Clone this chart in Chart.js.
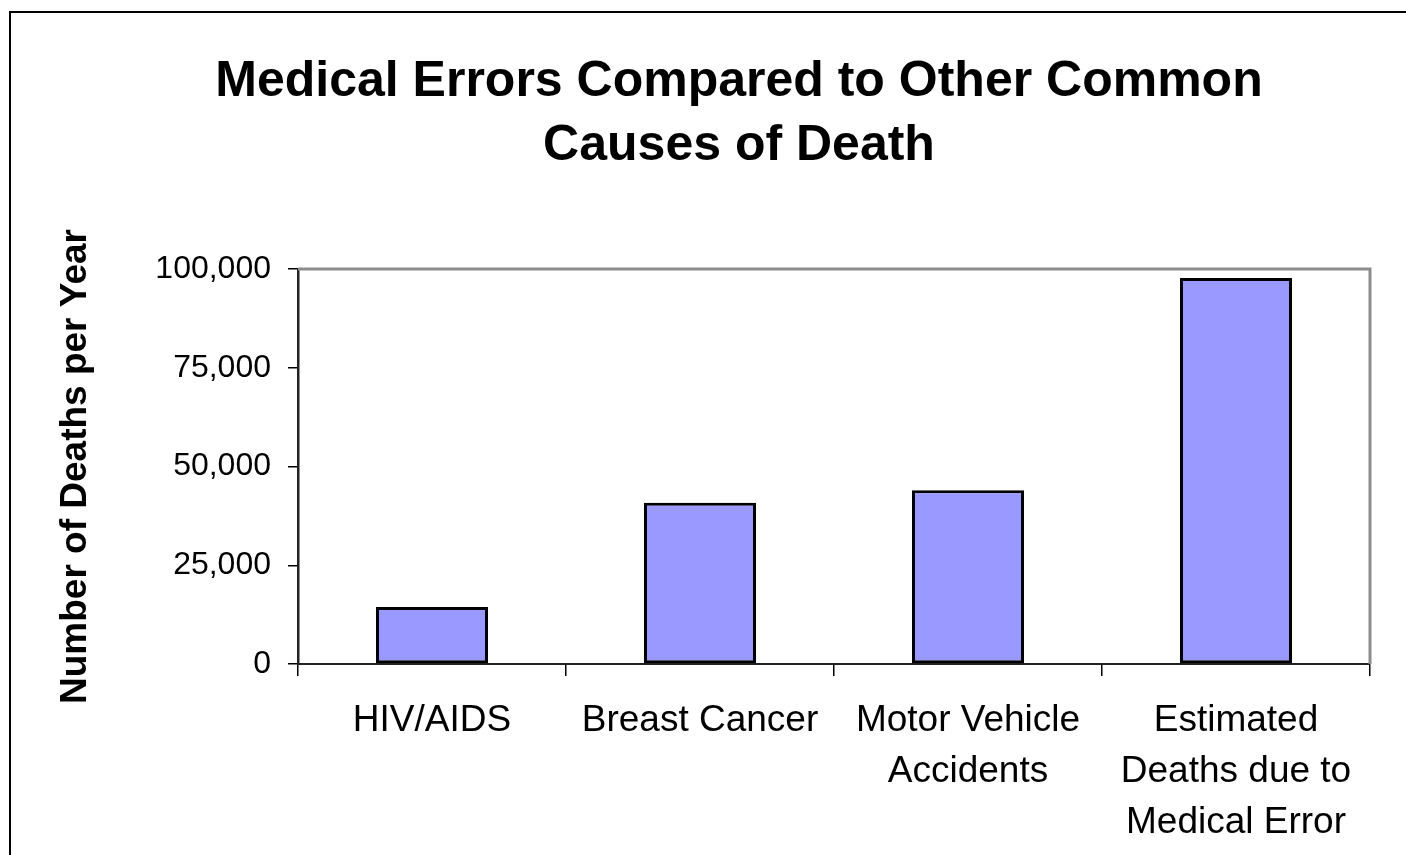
<!DOCTYPE html>
<html>
<head>
<meta charset="utf-8">
<script src="https://cdn.jsdelivr.net/npm/chart.js@4"></script>
<style>
	body { margin: 0; background: #fff; }
	canvas { display: block; }
</style>
</head>
<body>
<canvas id="chartMedicalErrors" width="1406" height="855"></canvas>
<script>
const CATEGORIES = [
	'HIV/AIDS',
	'Breast Cancer',
	['Motor Vehicle', 'Accidents'],
	['Estimated', 'Deaths due to', 'Medical Error'],
];
const DEATHS_PER_YEAR = [14400, 40800, 44000, 97700];
const Y_TICKS = [0, 25000, 50000, 75000, 100000];

const FONT_FAMILY = "'Liberation Sans', Arial, sans-serif";

// white page + frame line that runs off the right and bottom edge
const pageFramePlugin = {
	id: 'pageFrame',
	afterLayout(chart) {
		// the title is centred on the whole (cropped) frame, not on the canvas
		const title = chart.titleBlock;
		if (title) {
			title.left = 108;
			title.right = 1370;
			title.width = title.right - title.left;
		}
	},
	beforeDraw(chart) {
		const ctx = chart.ctx;
		ctx.save();
		ctx.fillStyle = '#fff';
		ctx.fillRect(0, 0, chart.width, chart.height);
		ctx.strokeStyle = '#000';
		ctx.lineWidth = 2;
		ctx.beginPath();
		ctx.moveTo(10, chart.height + 5);
		ctx.lineTo(10, 12);
		ctx.lineTo(chart.width + 5, 12);
		ctx.stroke();
		ctx.restore();
	},
	beforeDatasetsDraw(chart) {
		const { ctx, chartArea } = chart;
		ctx.save();
		ctx.strokeStyle = '#8c8c8c';
		ctx.lineWidth = 3;
		ctx.beginPath();
		ctx.moveTo(chartArea.left, chartArea.top);
		ctx.lineTo(chartArea.right, chartArea.top);
		ctx.lineTo(chartArea.right, chartArea.bottom);
		ctx.stroke();
		ctx.restore();
	},
};

const ctx = document.querySelector('#chartMedicalErrors').getContext('2d');

new Chart(ctx, {
	type: 'bar',
	data: {
		labels: CATEGORIES,
		datasets: [
			{
				label: 'Deaths per Year',
				data: DEATHS_PER_YEAR,
				backgroundColor: '#9999ff',
				borderColor: '#000',
				borderWidth: 3,
				borderSkipped: false,
				categoryPercentage: 1,
				barPercentage: 0.418,
			},
		],
	},
	options: {
		responsive: false,
		animation: false,
		layout: {
			padding: { left: 24, right: 36, top: 12, bottom: 0 },
		},
		scales: {
			x: {
				grid: {
					offset: true,
					drawOnChartArea: false,
					drawTicks: true,
					tickLength: 12,
					color: '#000',
					lineWidth: 1.5,
				},
				border: { color: '#222', width: 2 },
				ticks: {
					color: '#000',
					padding: 19,
					maxRotation: 0,
					autoSkip: false,
					font: { family: FONT_FAMILY, size: 37, lineHeight: 1.38 },
				},
				afterFit(scale) {
					scale.height = 191;
				},
			},
			y: {
				min: 0,
				max: 100000,
				afterBuildTicks(scale) {
					scale.ticks = Y_TICKS.map(v => ({ value: v }));
				},
				grid: {
					drawOnChartArea: false,
					drawTicks: true,
					tickLength: 10,
					color: '#000',
					lineWidth: 1.5,
				},
				border: { color: '#222', width: 2.5 },
				ticks: {
					color: '#000',
					padding: 17,
					font: { family: FONT_FAMILY, size: 32 },
					callback: value => value.toLocaleString('en-US'),
				},
				title: {
					display: true,
					text: 'Number of Deaths per Year',
					color: '#000',
					font: { family: FONT_FAMILY, size: 37, weight: 'bold', lineHeight: 1.2 },
					padding: { top: 30, bottom: 40 },
				},
				afterFit(scale) {
					scale.width = 298 - 24;
				},
			},
		},
		plugins: {
			legend: { display: false },
			tooltip: { enabled: false },
			title: {
				display: true,
				text: ['Medical Errors Compared to Other Common', 'Causes of Death'],
				color: '#000',
				font: { family: FONT_FAMILY, size: 50, weight: 'bold', lineHeight: 1.28 },
				padding: { top: 38, bottom: 91 },
			},
		},
	},
	plugins: [pageFramePlugin],
});
</script>
</body>
</html>
